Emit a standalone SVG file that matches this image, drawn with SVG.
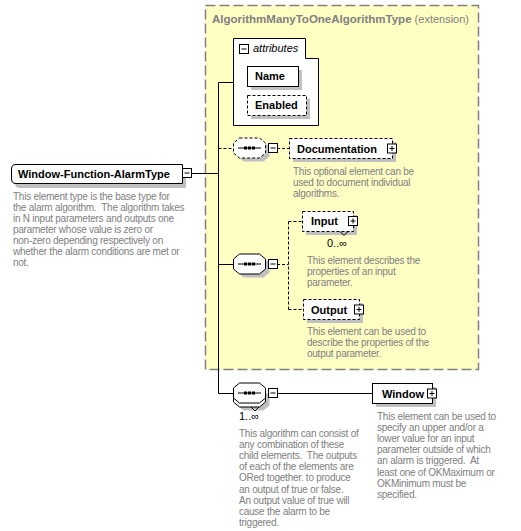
<svg xmlns="http://www.w3.org/2000/svg" xmlns:xlink="http://www.w3.org/1999/xlink" width="521" height="531" viewBox="0 0 521 531" xml:space="preserve">
<style>
.bg{fill:#ffffff}
.ext{fill:#ffffc4;stroke:#808080;stroke-width:1.5;stroke-dasharray:10 4}
.box{fill:#ffffff;stroke:#000000;stroke-width:1}
.dbox{fill:#ffffff;stroke:#000000;stroke-width:1;stroke-dasharray:3 2}
.sh{fill:#c0c0c0}
.ln{fill:none;stroke:#000000;stroke-width:1}
.dln{fill:none;stroke:#000000;stroke-width:1;stroke-dasharray:3 2}
.lbl{font-family:"Liberation Sans",Arial,sans-serif;font-size:11px;font-weight:bold;fill:#000000}
.ttl{font-family:"Liberation Sans",Arial,sans-serif;font-size:11.5px;font-weight:bold;fill:#808080}
.ttn{font-family:"Liberation Sans",Arial,sans-serif;font-size:11px;fill:#808080}
.it{font-family:"Liberation Sans",Arial,sans-serif;font-size:11px;font-style:italic;fill:#000000}
.ds{font-family:"Liberation Sans",Arial,sans-serif;font-size:10px;letter-spacing:-0.25px;fill:#808080;white-space:pre}
.mul{font-family:"Liberation Sans",Arial,sans-serif;font-size:11px;fill:#000000}
</style>
<defs>
<g id="minus"><rect x="0.5" y="0.5" width="9" height="9" class="box"/><path d="M2.5,5H7.5" class="ln"/></g>
<g id="plus"><rect x="0.5" y="0.5" width="9" height="9" class="box"/><path d="M2.5,5H7.5M5,2.5V7.5" class="ln"/></g>
<path id="oct" d="M6.5,0.5H26.5L32.5,5.5V15.5L26.5,20.5H6.5L0.5,15.5V5.5Z"/>
<g id="dots"><path d="M5,10.5H28" class="ln"/><rect x="11" y="9" width="3" height="3"/><rect x="15" y="9" width="3" height="3"/><rect x="19" y="9" width="3" height="3"/></g>
</defs>
<rect x="0" y="0" width="521" height="531" class="bg"/>

<g id="extension">
<rect x="205.5" y="5.5" width="273" height="364" class="ext"/>
<text x="212" y="23"><tspan class="ttl">AlgorithmManyToOneAlgorithmType</tspan><tspan class="ttn"> (extension)</tspan></text>
</g>

<g id="connectors">
<path d="M192,173.5H218.5" class="ln"/>
<path d="M218.5,82.5V393.5" class="ln"/>
<path d="M218.5,82.5H233" class="ln"/>
<path d="M218.5,148.5H233" class="dln"/>
<path d="M218.5,264.5H233" class="ln"/>
<path d="M218.5,393.5H233" class="ln"/>
<path d="M277,148.5H289" class="dln"/>
<path d="M277,264.5H288.5" class="dln"/>
<path d="M288.5,221.5V309.5" class="dln"/>
<path d="M288.5,221.5H302" class="dln"/>
<path d="M288.5,309.5H303" class="dln"/>
<path d="M277,393.5H372" class="ln"/>
</g>

<g id="main">
<path d="M20,168H186V188H20Q15,188 15,183V173Q15,168 20,168Z" class="sh"/>
<path d="M16,164.5H182.5V183.5H16Q11.5,183.5 11.5,179V169Q11.5,164.5 16,164.5Z" class="box"/>
<text x="18" y="178" class="lbl">Window-Function-AlarmType</text>
<use xlink:href="#minus" x="182" y="168"/>
<text class="ds"><tspan x="13" y="200">This element type is the base type for</tspan><tspan x="13" y="211">the alarm algorithm.  The algorithm takes</tspan><tspan x="13" y="222">in N input parameters and outputs one</tspan><tspan x="13" y="233">parameter whose value is zero or</tspan><tspan x="13" y="244">non-zero depending respectively on</tspan><tspan x="13" y="255">whether the alarm conditions are met or</tspan><tspan x="13" y="266">not.</tspan></text>
</g>

<g id="attributes">
<path d="M233.5,38.5H305.5V58.5H318.5V125.5H233.5Z" class="box"/>
<use xlink:href="#minus" x="239" y="44"/>
<text x="253" y="52" class="it">attributes</text>
</g>

<g id="name">
<rect x="251" y="70" width="51" height="20" class="sh"/>
<rect x="247.5" y="66.5" width="51" height="20" class="box"/>
<text x="255" y="80" class="lbl">Name</text>
</g>

<g id="enabled">
<rect x="251" y="99" width="59" height="20" class="sh"/>
<rect x="247.5" y="95.5" width="59" height="20" class="dbox"/>
<text x="255" y="109" class="lbl">Enabled</text>
</g>

<g id="seq-documentation">
<use xlink:href="#oct" x="237" y="141" class="sh"/>
<use xlink:href="#oct" x="233" y="137.5" class="dbox"/>
<use xlink:href="#dots" x="233" y="137.5"/>
<use xlink:href="#minus" x="268" y="143"/>
</g>

<g id="documentation">
<rect x="293" y="142" width="103" height="20" class="sh"/>
<rect x="289.5" y="138.5" width="103" height="20" class="dbox"/>
<text x="297" y="152.5" class="lbl">Documentation</text>
<use xlink:href="#plus" x="387" y="143.5"/>
<text class="ds"><tspan x="293" y="175">This optional element can be</tspan><tspan x="293" y="186">used to document individual</tspan><tspan x="293" y="197">algorithms.</tspan></text>
</g>

<g id="seq-io">
<use xlink:href="#oct" x="237" y="257" class="sh"/>
<use xlink:href="#oct" x="233" y="253.5" class="box"/>
<use xlink:href="#dots" x="233" y="253.5"/>
<use xlink:href="#minus" x="268" y="259"/>
</g>

<g id="input">
<rect x="306" y="215" width="51" height="20" class="sh"/>
<rect x="302.5" y="211.5" width="51" height="20" class="dbox"/>
<path d="M340,231.5L344,235.5L348,231.5" class="ln"/>
<text x="311" y="225" class="lbl">Input</text>
<use xlink:href="#plus" x="348" y="216"/>
<text x="327" y="247" class="mul">0..∞</text>
<text class="ds"><tspan x="307" y="264">This element describes the</tspan><tspan x="307" y="275">properties of an input</tspan><tspan x="307" y="286">parameter.</tspan></text>
</g>

<g id="output">
<rect x="307" y="303" width="56" height="20" class="sh"/>
<rect x="303.5" y="299.5" width="56" height="20" class="dbox"/>
<text x="311" y="313.5" class="lbl">Output</text>
<use xlink:href="#plus" x="354" y="304.5"/>
<text class="ds"><tspan x="307" y="335">This element can be used to</tspan><tspan x="307" y="346">describe the properties of the</tspan><tspan x="307" y="357">output parameter.</tspan></text>
</g>

<g id="seq-window">
<use xlink:href="#oct" x="237" y="390" class="sh"/>
<use xlink:href="#oct" x="233" y="386.5" class="box"/>
<use xlink:href="#oct" x="233" y="382.5" class="box"/>
<path d="M251,407L255,411L259,407" class="ln"/>
<use xlink:href="#dots" x="233" y="382.5"/>
<use xlink:href="#minus" x="268" y="388"/>
<text x="239" y="420" class="mul">1..∞</text>
<text class="ds"><tspan x="239" y="436.5">This algorithm can consist of</tspan><tspan x="239" y="447.7">any combination of these</tspan><tspan x="239" y="458.9">child elements.  The outputs</tspan><tspan x="239" y="470.1">of each of the elements are</tspan><tspan x="239" y="481.3">ORed together. to produce</tspan><tspan x="239" y="492.5">an output of true or false.</tspan><tspan x="239" y="503.7">An output value of true will</tspan><tspan x="239" y="514.9">cause the alarm to be</tspan><tspan x="239" y="526.1">triggered.</tspan></text>
</g>

<g id="window">
<rect x="376" y="387" width="60" height="20" class="sh"/>
<rect x="372.5" y="383.5" width="60" height="20" class="box"/>
<text x="382" y="397.5" class="lbl">Window</text>
<use xlink:href="#plus" x="427" y="388.5"/>
<text class="ds"><tspan x="377" y="419.5">This element can be used to</tspan><tspan x="377" y="430.7">specify an upper and/or a</tspan><tspan x="377" y="441.9">lower value for an input</tspan><tspan x="377" y="453.1">parameter outside of which</tspan><tspan x="377" y="464.3">an alarm is triggered.  At</tspan><tspan x="377" y="475.5">least one of OKMaximum or</tspan><tspan x="377" y="486.7">OKMinimum must be</tspan><tspan x="377" y="497.9">specified.</tspan></text>
</g>
</svg>
